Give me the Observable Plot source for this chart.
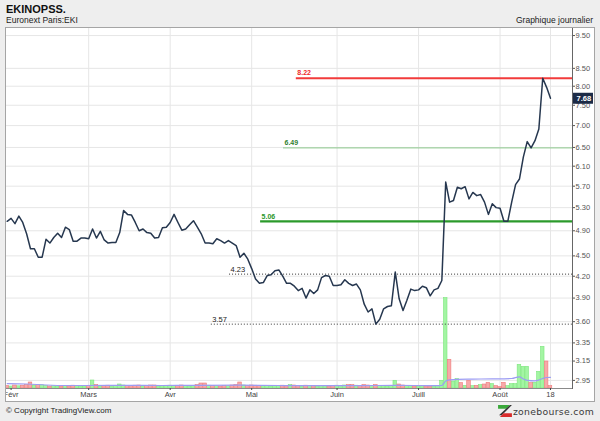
<!DOCTYPE html>
<html>
<head>
<meta charset="utf-8">
<script src="https://cdn.jsdelivr.net/npm/d3@7"></script>
<script src="https://cdn.jsdelivr.net/npm/@observablehq/plot@0.6"></script>
<style>
html,body{margin:0;padding:0;}
body{width:600px;height:421px;background:#eeeeee;position:relative;overflow:hidden;font-family:"Liberation Sans",Arial,sans-serif;color:#111;}
.hdr{position:absolute;line-height:1;white-space:nowrap;}
#title{left:6px;top:4px;font-size:11px;font-weight:bold;}
#sub{left:6px;top:16px;font-size:8.5px;color:#222;}
#kind{right:7px;top:16px;font-size:8.5px;color:#222;}
#box{position:absolute;left:6px;top:28px;width:588px;height:373px;background:#fff;outline:1px solid #a5a5a5;}
.layer{position:absolute;left:0;top:0;}
#copy{position:absolute;left:6px;top:407px;font-size:8px;line-height:1;color:#222;}
#logo{position:absolute;right:6px;top:404px;height:14px;display:flex;align-items:center;gap:1px;}
#logo span{font-family:"DejaVu Sans",sans-serif;font-size:9.3px;color:#3a3a3a;letter-spacing:0.3px;}
</style>
</head>
<body>
<div class="hdr" id="title">EKINOPSS.</div>
<div class="hdr" id="sub">Euronext Paris:EKI</div>
<div class="hdr" id="kind">Graphique journalier</div>
<div id="box">
  <div class="layer" id="gridLayer"></div>
  <div class="layer" id="volLayer"></div>
  <div class="layer" id="priceLayer"></div>
</div>
<div id="copy">© Copyright TradingView.com</div>
<div id="logo"><svg width="14" height="12" viewBox="0 0 15 13"><polygon points="0,0 13,0 9,4 0,4" fill="#3aa83a"/><polygon points="13,0 15,0 4,11 1,11" fill="#333"/><polygon points="2,13 15,13 15,9 6,9" fill="#d82b2b"/></svg><span>zonebourse.com</span></div>
<script>
// ---- data (trading sessions, index 0 = last session of January) ----
const close = [
  5.06,5.11,5.02,5.15,5.04,4.85,4.61,4.61,4.48,4.48,
  4.76,4.70,4.79,4.86,4.79,4.96,4.92,4.73,4.73,4.78,
  4.78,4.77,4.93,4.78,4.89,4.75,4.70,4.71,4.71,4.87,
  5.25,5.18,5.17,5.04,4.90,4.93,4.87,4.86,4.78,4.79,
  4.95,4.96,5.04,5.18,5.04,4.91,4.93,5.00,5.07,4.96,
  4.85,4.70,4.70,4.69,4.77,4.74,4.70,4.74,4.70,4.66,
  4.48,4.54,4.45,4.31,4.16,4.10,4.11,4.21,4.22,4.28,
  4.29,4.20,4.10,4.10,4.06,4.00,4.03,3.90,4.01,3.96,
  4.01,4.18,4.21,4.20,4.07,4.07,4.08,4.15,4.10,4.07,
  4.09,4.01,3.82,3.72,3.76,3.57,3.63,3.76,3.79,3.80,
  4.26,3.89,3.74,3.87,4.02,4.00,4.01,4.06,4.04,3.93,
  4.01,4.03,4.14,5.78,5.40,5.43,5.68,5.65,5.69,5.46,
  5.58,5.52,5.54,5.40,5.18,5.37,5.30,5.29,5.06,5.06,
  5.40,5.73,5.84,6.29,6.63,6.49,6.65,6.92,8.22,7.97,
  7.68
];
// volume, thousands of shares
const volume = [
  25,20,30,22,28,35,60,30,35,33,
  25,20,22,18,20,25,20,28,22,20,
  18,25,80,35,20,22,28,18,25,40,
  30,25,22,28,30,20,25,30,30,20,
  22,25,28,25,22,30,25,20,22,35,
  50,50,28,25,22,20,25,22,30,35,
  60,30,25,30,28,25,22,25,20,22,
  25,28,22,35,30,25,20,28,25,22,
  20,25,22,20,25,28,22,30,35,35,
  28,25,35,30,25,35,25,22,20,25,
  77,40,30,25,22,20,18,22,20,18,
  20,22,77,904,287,70,94,54,27,77,
  24,27,34,40,57,44,24,14,57,24,
  44,44,237,217,217,54,57,167,417,270,
  24
];
// 20-session volume average, read at these sessions
const maSession = [0,5,10,15,20,30,40,50,60,70,80,90,100,110,112,113,114,116,120,125,130,132,133,134,136,137,138,139,140];
const maVolume  = [48,45,35,30,30,32,30,32,33,30,28,28,32,28,30,75,86,92,94,96,100,117,95,82,77,85,100,110,112];
// axis labels
const monthLabels  = ["Févr","Mars","Avr","Mai","Juin","Juill","Août","18"];
const monthSession = [1,21,42,63,85,106,127,140];
const priceTicks = [2.95,3.15,3.35,3.60,3.90,4.20,4.50,4.90,5.30,5.70,6.10,6.50,7.00,7.50,8.00,8.50,9.50];
// drawn horizontal levels and the session where each starts
const levelValue = [8.22, 6.49, 5.06, 4.23, 3.57];
const levelStart = [74.5, 71.2, 65.3, 57.3, 52.6];

// ---- layout ----
const W = 588, H = 373;
const xDomain = [-0.18, 145.67];
const base = {
  width: W, height: H,
  marginLeft: 0, marginRight: 22, marginTop: 0, marginBottom: 13,
  style: {fontFamily: "'Liberation Sans', Arial, sans-serif", fontSize: "7.5px", background: "transparent", overflow: "hidden", color: "#444"}
};
const yPrice = {type: "log", domain: [2.87, 9.73], axis: null};
const xScale = {domain: xDomain, axis: null};

// grid layer
document.getElementById("gridLayer").append(Plot.plot({
  ...base, x: xScale, y: yPrice,
  marks: [
    Plot.gridY(priceTicks, {stroke: "#e6e6e6", strokeOpacity: 1}),
    Plot.gridX(monthSession.slice(1), {stroke: "#e6e6e6", strokeOpacity: 1})
  ]
}));

// volume layer
const volData = volume.map((v, i) => ({i, v, up: i > 0 && close[i] >= close[i - 1]}));
const maData = maSession.map((s, k) => ({s, v: maVolume[k]}));
document.getElementById("volLayer").append(Plot.plot({
  ...base, x: xScale, y: {domain: [0, 1000], range: [360, 260], axis: null},
  marks: [
    Plot.rectY(volData.filter(d => d.up), {x1: d => d.i - 0.46, x2: d => d.i + 0.46, y: "v", fill: "#a3f5a3", stroke: "#7ee67e", strokeWidth: 0.6}),
    Plot.rectY(volData.filter(d => !d.up), {x1: d => d.i - 0.46, x2: d => d.i + 0.46, y: "v", fill: "#f7a9a9", stroke: "#ee7b7b", strokeWidth: 0.6}),
    Plot.line(maData, {x: "s", y: "v", stroke: "#9c9cf3", strokeWidth: 1.2, curve: "monotone-x"})
  ]
}));

// price layer
const last = close[close.length - 1];
document.getElementById("priceLayer").append(Plot.plot({
  ...base, x: xScale, y: yPrice,
  marks: [
    Plot.frame({anchor: "bottom", stroke: "#8a8a8a"}),
    Plot.frame({anchor: "right", stroke: "#666"}),
    // levels
    Plot.ruleY([levelValue[0]], {x1: levelStart[0], x2: xDomain[1], stroke: "#f23b3b", strokeWidth: 2}),
    Plot.ruleY([levelValue[1]], {x1: levelStart[1], x2: xDomain[1], stroke: "#8cc98c", strokeWidth: 1}),
    Plot.ruleY([levelValue[2]], {x1: levelStart[2], x2: xDomain[1], stroke: "#2b9a2b", strokeWidth: 2.3}),
    Plot.ruleY([levelValue[3]], {x1: levelStart[3], x2: xDomain[1], stroke: "#333", strokeWidth: 1, strokeDasharray: "1,2"}),
    Plot.ruleY([levelValue[4]], {x1: levelStart[4], x2: xDomain[1], stroke: "#333", strokeWidth: 1, strokeDasharray: "1,2"}),
    Plot.text([0, 1, 2], {x: k => levelStart[k], y: k => levelValue[k], text: k => levelValue[k].toFixed(2),
      fill: k => ["#ee2a2a", "#2f7f2f", "#2a962a"][k], textAnchor: "start", dx: 1, dy: -5, fontSize: 7, fontWeight: "bold"}),
    Plot.text([3, 4], {x: k => levelStart[k], y: k => levelValue[k], text: k => levelValue[k].toFixed(2),
      fill: "#222", textAnchor: "start", dx: 1, dy: -5, fontSize: 7.5}),
    // price
    Plot.line(close, {x: (d, i) => i, y: d => d, stroke: "#26374f", strokeWidth: 1.5}),
    // axes
    Plot.axisY(priceTicks, {anchor: "right", tickSize: 2, tickPadding: 1, tickFormat: d3.format(".2f"), color: "#555", fontSize: 7.5, label: null}),
    Plot.axisX(monthSession, {anchor: "bottom", tickSize: 2, tickPadding: 1, tickFormat: d => monthLabels[monthSession.indexOf(d)], color: "#444", fontSize: 7.5, label: null}),
    // last price badge
    Plot.ruleY([last], {stroke: "#1c2b47", strokeWidth: 11, insetLeft: 567, insetRight: -21}),
    Plot.text([last], {y: d => d, text: d => d.toFixed(2), frameAnchor: "right", dx: 4, textAnchor: "start", fill: "white", fontWeight: "bold", fontSize: 7.5})
  ]
}));
</script>
</body>
</html>
